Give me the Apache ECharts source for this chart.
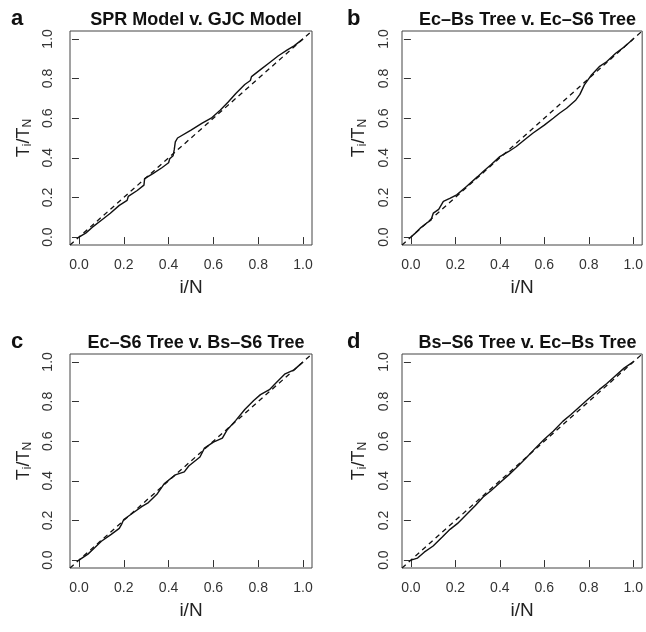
<!DOCTYPE html>
<html>
<head>
<meta charset="utf-8">
<script src="https://cdn.jsdelivr.net/npm/echarts@6/dist/echarts.min.js"></script>
<style>html,body{margin:0;padding:0;background:#fff}#c{width:646px;height:632px}</style>
</head>
<body>
<div id="c"></div>
<script>
const panelLetters = ['a', 'b', 'c', 'd'];
const panelTitles = ['SPR Model v. GJC Model', 'Ec\u2013Bs Tree v. Ec\u2013S6 Tree', 'Ec\u2013S6 Tree v. Bs\u2013S6 Tree', 'Bs\u2013S6 Tree v. Ec\u2013Bs Tree'];
const tickValues = [0, 0.2, 0.4, 0.6, 0.8, 1.0];
const xAxisTitle = 'i/N';

const aX = [0, 0.03, 0.06, 0.10, 0.14, 0.145, 0.18, 0.215, 0.22, 0.26, 0.29, 0.293, 0.33, 0.37, 0.40, 0.405, 0.42, 0.425, 0.43, 0.44, 0.50, 0.55, 0.59, 0.63, 0.665, 0.70, 0.74, 0.765, 0.77, 0.81, 0.85, 0.89, 0.93, 0.96, 1.0];
const aY = [0, 0.02, 0.05, 0.085, 0.12, 0.13, 0.16, 0.185, 0.205, 0.235, 0.262, 0.295, 0.32, 0.35, 0.375, 0.395, 0.41, 0.44, 0.48, 0.50, 0.54, 0.575, 0.60, 0.64, 0.68, 0.725, 0.77, 0.79, 0.81, 0.845, 0.88, 0.915, 0.945, 0.965, 1.0];

const bX = [0, 0.02, 0.042, 0.07, 0.09, 0.101, 0.125, 0.146, 0.175, 0.206, 0.25, 0.3, 0.325, 0.36, 0.4, 0.44, 0.474, 0.51, 0.548, 0.6, 0.64, 0.668, 0.7, 0.742, 0.76, 0.78, 0.81, 0.847, 0.88, 0.921, 0.96, 1.0];
const bY = [0, 0.02, 0.045, 0.07, 0.085, 0.121, 0.14, 0.18, 0.195, 0.213, 0.255, 0.305, 0.331, 0.365, 0.406, 0.432, 0.457, 0.49, 0.524, 0.565, 0.6, 0.625, 0.65, 0.692, 0.72, 0.768, 0.815, 0.86, 0.885, 0.928, 0.96, 1.0];

const cX = [0, 0.04, 0.07, 0.1, 0.144, 0.18, 0.19, 0.2, 0.25, 0.28, 0.31, 0.35, 0.38, 0.43, 0.47, 0.49, 0.54, 0.56, 0.6, 0.64, 0.66, 0.7, 0.74, 0.78, 0.81, 0.85, 0.88, 0.92, 0.96, 0.98, 1.0];
const cY = [0, 0.03, 0.062, 0.095, 0.13, 0.16, 0.18, 0.205, 0.245, 0.27, 0.29, 0.335, 0.385, 0.43, 0.445, 0.475, 0.52, 0.565, 0.595, 0.615, 0.655, 0.705, 0.76, 0.805, 0.835, 0.86, 0.895, 0.94, 0.96, 0.98, 1.0];

const dX = [0, 0.03, 0.06, 0.1, 0.14, 0.176, 0.21, 0.25, 0.29, 0.325, 0.36, 0.4, 0.44, 0.474, 0.519, 0.56, 0.6, 0.64, 0.683, 0.72, 0.76, 0.8, 0.847, 0.88, 0.92, 0.96, 1.0];
const dY = [0, 0.01, 0.04, 0.071, 0.115, 0.155, 0.185, 0.23, 0.275, 0.318, 0.35, 0.39, 0.43, 0.466, 0.516, 0.565, 0.61, 0.65, 0.70, 0.735, 0.775, 0.815, 0.86, 0.89, 0.93, 0.97, 1.0];

const refLine = [-0.04, 1.04];

const curvesX = [aX, bX, cX, dX];
const curvesY = [aY, bY, cY, dY];

const gridPos = [
  {left: 70, top: 31, width: 242, height: 214},
  {left: 402, top: 31, width: 241, height: 214},
  {left: 70, top: 354, width: 242, height: 214},
  {left: 402, top: 354, width: 241, height: 214}
];

const FONT = '"Liberation Sans", Arial, sans-serif';
const grids = [], xAxes = [], yAxes = [], series = [], titles = [];

for (let i = 0; i < 4; i++) {
  const g = gridPos[i];
  const isLeft = i % 2 === 0;
  grids.push(Object.assign({show: true, borderColor: '#444', borderWidth: 1, backgroundColor: 'transparent', containLabel: false}, g));
  const common = {
    gridIndex: i, type: 'value', min: -0.04, max: 1.04,
    splitLine: {show: false},
    axisLine: {show: false},
    axisTick: {show: true, inside: false, length: 7, lineStyle: {color: '#333'}, customValues: tickValues},
    axisLabel: {customValues: tickValues, formatter: v => v.toFixed(1), color: '#333', fontSize: 14, fontFamily: FONT}
  };
  xAxes.push(Object.assign({}, common, {
    axisLabel: Object.assign({}, common.axisLabel, {margin: 13}),
    name: xAxisTitle, nameLocation: 'middle', nameGap: 33,
    nameTextStyle: {fontSize: 19, color: '#222', fontFamily: FONT}
  }));
  yAxes.push(Object.assign({}, common, {
    axisLabel: Object.assign({}, common.axisLabel, {margin: isLeft ? 15 : 11, rotate: 90}),
    name: '{n|T}{s|i}{n|/T}{s|N}', nameLocation: 'middle', nameGap: isLeft ? 36 : 33, nameRotate: 90,
    nameTextStyle: {
      fontFamily: FONT,
      rich: {
        n: {fontSize: 18, color: '#222', fontFamily: FONT},
        s: {fontSize: 12, color: '#222', fontFamily: FONT, padding: [7, 0, 0, 0]}
      }
    }
  }));
  series.push({
    type: 'line', xAxisIndex: i, yAxisIndex: i, symbol: 'none', silent: true,
    data: refLine.map(v => [v, v]),
    lineStyle: {color: '#111', width: 1.3, type: [5, 4]}
  });
  series.push({
    type: 'line', xAxisIndex: i, yAxisIndex: i, symbol: 'none', silent: true,
    data: curvesX[i].map((x, k) => [x, curvesY[i][k]]),
    lineStyle: {color: '#111', width: 1.4}
  });
  titles.push({
    text: panelTitles[i], left: g.left + g.width / 2, top: g.top - 25, textAlign: 'center',
    textStyle: {fontSize: 18, fontWeight: 'bold', color: '#111', fontFamily: FONT}
  });
  titles.push({
    text: panelLetters[i], left: isLeft ? 6 : 342, top: g.top - 28,
    textStyle: {fontSize: 22, fontWeight: 'bold', color: '#111', fontFamily: FONT}
  });
}

const chart = echarts.init(document.getElementById('c'), null, {renderer: 'canvas'});
chart.setOption({
  animation: false,
  backgroundColor: '#fff',
  title: titles,
  grid: grids,
  xAxis: xAxes,
  yAxis: yAxes,
  series: series
});
</script>
</body>
</html>
